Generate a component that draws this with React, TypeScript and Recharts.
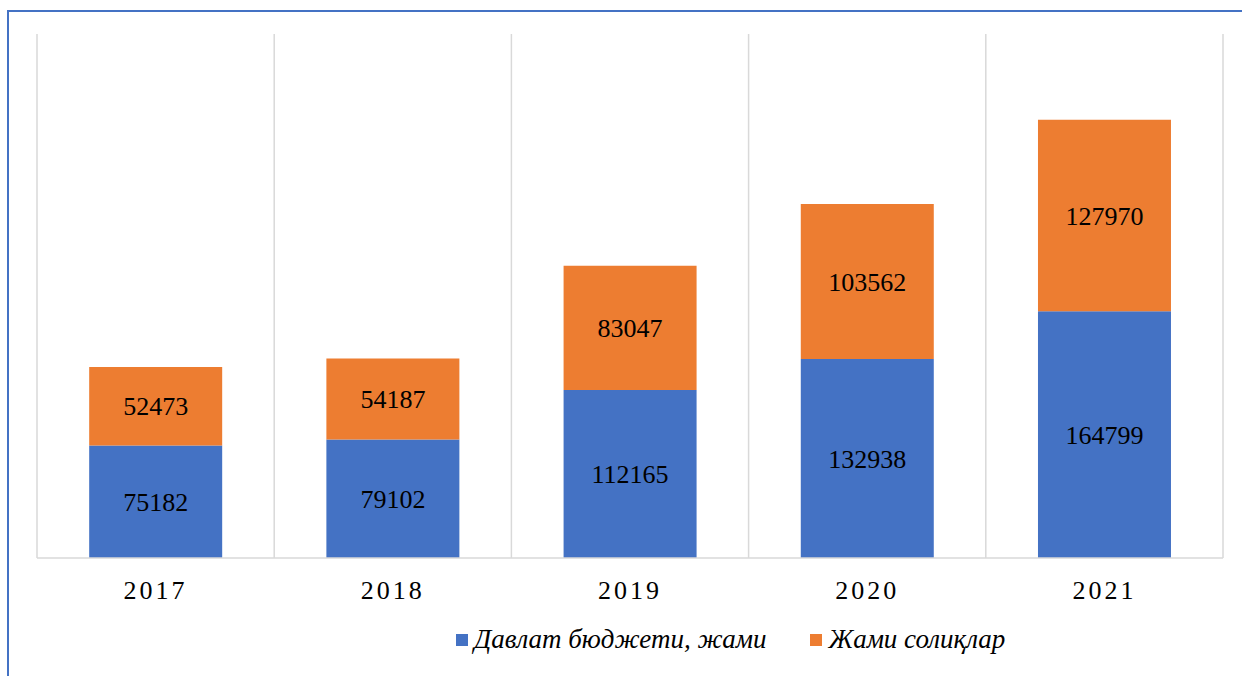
import {
  BarChart,
  Bar,
  XAxis,
  YAxis,
  CartesianGrid,
  Legend,
  LabelList,
} from "recharts";

const years = ["2017", "2018", "2019", "2020", "2021"];
const budget = [75182, 79102, 112165, 132938, 164799];
const taxes = [52473, 54187, 83047, 103562, 127970];
const seriesNames = ["Давлат бюджети, жами", "Жами солиқлар"];
const colors = ["#4472C4", "#ED7D31"];

const data = years.map((year, i) => ({
  year,
  budget: budget[i],
  taxes: taxes[i],
}));

const serif = "Liberation Serif";

// vertical grid lines at category boundaries (one band per year)
function boundaryLines(props: any) {
  const { offset } = props;
  const step = offset.width / years.length;
  return [0, ...years.map((_, i) => i + 1)].map((i) => offset.left + i * step);
}

function LegendContent() {
  return (
    <div style={{ display: "flex", alignItems: "center", fontFamily: serif }}>
      {seriesNames.map((name, i) => (
        <div
          key={name}
          style={{
            display: "flex",
            alignItems: "center",
            marginRight: i === 0 ? 44 : 0,
          }}
        >
          <span
            style={{
              display: "inline-block",
              width: 12,
              height: 12,
              background: colors[i],
              marginRight: 6,
            }}
          />
          <span style={{ fontSize: 27, fontStyle: "italic", color: "#000" }}>
            {name}
          </span>
        </div>
      ))}
    </div>
  );
}

export default function App() {
  return (
    <div style={{ position: "fixed", left: 0, top: 0, width: 1242, height: 676, background: "#fff" }}>
      <div
        style={{
          position: "absolute",
          left: 7,
          top: 10,
          width: 1235,
          height: 666,
          borderTop: "2px solid #4472C4",
          borderLeft: "2px solid #4472C4",
        }}
      />
      <div style={{ position: "absolute", left: 0, top: 0 }}>
        <BarChart
          width={1242}
          height={676}
          data={data}
          margin={{ top: 34, right: 19, left: 37, bottom: 0 }}
          barCategoryGap="22%"
        >
          <CartesianGrid
            horizontal={false}
            stroke="#d9d9d9"
            strokeWidth={1.5}
            verticalCoordinatesGenerator={boundaryLines}
          />
          <XAxis
            dataKey="year"
            height={118}
            tickLine={false}
            tickSize={0}
            tickMargin={23}
            axisLine={{ stroke: "#d9d9d9", strokeWidth: 1.5 }}
            tick={{ fill: "#000", fontSize: 26, fontFamily: serif, letterSpacing: 3 }}
          />
          <YAxis hide domain={[0, 350000]} />
          <Legend
            layout="horizontal"
            verticalAlign="middle"
            content={<LegendContent />}
            wrapperStyle={{ position: "absolute", left: 456, top: 624, width: "auto" }}
          />
          <Bar
            dataKey="budget"
            name={seriesNames[0]}
            stackId="a"
            fill={colors[0]}
            isAnimationActive={false}
          >
            <LabelList
              dataKey="budget"
              position="center"
              fill="#000"
              fontSize={26}
              fontFamily={serif}
            />
          </Bar>
          <Bar
            dataKey="taxes"
            name={seriesNames[1]}
            stackId="a"
            fill={colors[1]}
            isAnimationActive={false}
          >
            <LabelList
              dataKey="taxes"
              position="center"
              fill="#000"
              fontSize={26}
              fontFamily={serif}
            />
          </Bar>
        </BarChart>
      </div>
    </div>
  );
}
